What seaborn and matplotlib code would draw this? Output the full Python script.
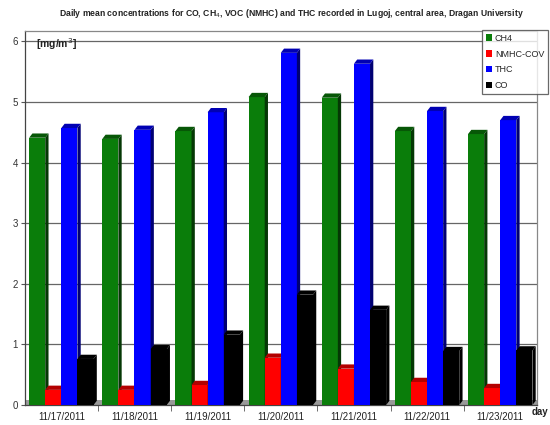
import numpy as np
import pandas as pd
import matplotlib
matplotlib.use("Agg")
import matplotlib.pyplot as plt
import seaborn as sns
from matplotlib.patches import Polygon, Patch
import matplotlib.colors as mcolors

days = ["11/17/2011", "11/18/2011", "11/19/2011", "11/20/2011",
        "11/21/2011", "11/22/2011", "11/23/2011"]
series = ["CH4", "NMHC-COV", "THC", "CO"]
ch4 = [4.41, 4.39, 4.52, 5.08, 5.07, 4.52, 4.47]
nmhc = [0.25, 0.25, 0.33, 0.78, 0.60, 0.38, 0.28]
thc = [4.57, 4.54, 4.83, 5.81, 5.63, 4.85, 4.70]
co = [0.76, 0.92, 1.16, 1.82, 1.57, 0.89, 0.90]
colors = ["#0a7d0a", "#ff0000", "#0000ff", "#000000"]

df = pd.DataFrame({
    "day": days * 4,
    "series": sum([[s] * len(days) for s in series], []),
    "value": ch4 + nmhc + thc + co,
})

sns.set_style("white")
plt.rcParams["font.family"] = ["Liberation Sans", "DejaVu Sans"]

fig = plt.figure(figsize=(5.5, 4.25), dpi=100)
ax = fig.add_axes([0.045, 0.047, 0.931, 0.88])

sns.barplot(data=df, x="day", y="value", hue="series", order=days,
            hue_order=series, palette=colors, width=0.88, ax=ax,
            legend=False, saturation=1, linewidth=0)

# pseudo 3D faces from the bars drawn by seaborn
dx, dy = 0.045, 0.07
bars = sorted([p for p in ax.patches], key=lambda p: p.get_x())
for i, p in enumerate(bars):
    x0, w, h = p.get_x(), p.get_width(), p.get_height()
    fc = np.array(mcolors.to_rgb(p.get_facecolor()))
    side = fc * 0.45
    top = fc * 0.7
    z = 3 + i * 0.01
    p.set_zorder(z)
    ax.add_patch(Polygon([(x0 + w, 0), (x0 + w + dx, dy), (x0 + w + dx, h + dy),
                          (x0 + w, h)], closed=True, facecolor=side,
                         edgecolor="none", zorder=z))
    ax.add_patch(Polygon([(x0, h), (x0 + dx, h + dy), (x0 + w + dx, h + dy),
                          (x0 + w, h)], closed=True, facecolor=top,
                         edgecolor="none", zorder=z))

# grey floor
ax.axhspan(0, 0.08, color="#9a9a9a", zorder=1, linewidth=0)

ax.set_ylim(0, 6.17)
ax.set_xlim(-0.5, 6.5)
ax.set_yticks(range(0, 7))
ax.set_yticklabels([str(v) for v in range(0, 7)], fontsize=7, color="#333333")
ax.yaxis.grid(True, color="#666666", linewidth=0.9)
ax.set_axisbelow(True)
ax.tick_params(axis="y", length=3, width=0.8, color="#555555", pad=2, left=True)
ax.set_xticks(range(len(days)))
ax.set_xticklabels(days, fontsize=7, color="#222222")
ax.set_xticks(np.arange(0.5, 6.5, 1), minor=True)
ax.tick_params(axis="x", which="major", length=0, pad=5)
ax.tick_params(axis="x", which="minor", length=4, color="#555555", bottom=True)
ax.set_xlabel("")
ax.set_ylabel("")
for s in ["top", "right", "left", "bottom"]:
    ax.spines[s].set_visible(True)
    ax.spines[s].set_color("#888888")
    ax.spines[s].set_linewidth(0.9)
ax.spines["bottom"].set_color("#444444")
ax.spines["left"].set_color("#444444")

ax.text(0.022, 0.985, "[mg/m$^3$]", transform=ax.transAxes, fontsize=7.5,
        fontweight="bold", va="top", ha="left", color="#222222")

fig.text(0.53, 0.968, "Daily mean concentrations for CO, CH$_4$, VOC (NMHC) and THC recorded in Lugoj, central area, Dragan University",
         ha="center", va="center", fontsize=6.2, fontweight="bold", color="#222222")
fig.text(0.982, 0.03, "day", ha="center", va="center", fontsize=7,
         fontweight="bold", color="#222222")

handles = [Patch(facecolor=c, edgecolor="none") for c in colors]
leg = fig.legend(handles, series, loc="upper right", bbox_to_anchor=(0.997, 0.93),
                 fontsize=6.5, frameon=True, fancybox=False, handlelength=0.7,
                 handleheight=0.7, handletextpad=0.3, labelspacing=0.75,
                 borderpad=0.45, borderaxespad=0)
leg.get_frame().set_edgecolor("#444444")
leg.get_frame().set_linewidth(0.9)

fig.savefig("out.png", dpi=100)
